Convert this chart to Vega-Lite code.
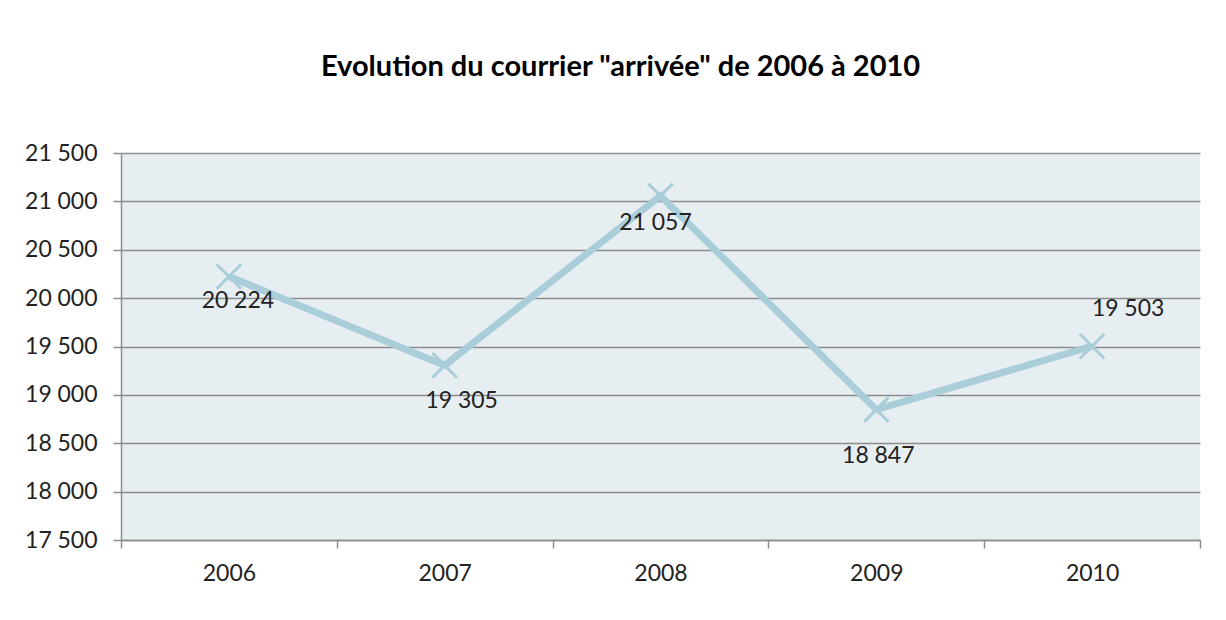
{
  "$schema": "https://vega.github.io/schema/vega-lite/v6.json",
  "width": 1079,
  "height": 387,
  "autosize": {"type": "none"},
  "padding": {"left": 121, "top": 153, "right": 26, "bottom": 80},
  "background": "white",
  "config": {
    "locale": {"number": {"decimal": ",", "thousands": "\u202f", "grouping": [3], "currency": ["", " €"]}},
    "view": {"fill": "#e7eef2", "stroke": null},
    "font": "Lato",
    "axis": {"labelFont": "Lato", "labelFontSize": 23, "labelColor": "#222222", "domainColor": "#8c8c8c", "tickColor": "#8c8c8c", "gridColor": "#8c8c8c", "domainWidth": 1.5, "tickWidth": 1.5, "gridWidth": 1.5}
  },
  "title": {
    "text": "Evolution du courrier \"arrivée\" de 2006 à 2010",
    "font": "Lato",
    "fontSize": 29,
    "fontWeight": "bold",
    "color": "#000000",
    "anchor": "middle",
    "dx": -40,
    "offset": 60
  },
  "data": {
    "values": [
      {"annee": 2006, "courrier": 20224},
      {"annee": 2007, "courrier": 19305},
      {"annee": 2008, "courrier": 21057},
      {"annee": 2009, "courrier": 18847},
      {"annee": 2010, "courrier": 19503}
    ]
  },
  "resolve": {"scale": {"x": "independent"}, "axis": {"x": "independent"}},
  "layer": [
    {
      "mark": {"type": "line", "color": "#a9cdd9", "strokeWidth": 7},
      "encoding": {
        "x": {"field": "annee", "type": "quantitative", "scale": {"domain": [2005.5, 2010.5], "nice": false, "zero": false},
          "axis": {"orient": "bottom", "title": null, "values": [2006, 2007, 2008, 2009, 2010], "format": "d", "ticks": false, "domain": false, "grid": false, "labelPadding": 22}},
        "y": {"field": "courrier", "type": "quantitative", "scale": {"domain": [17500, 21500], "nice": false, "zero": false},
          "axis": {"title": null, "values": [17500, 18000, 18500, 19000, 19500, 20000, 20500, 21000, 21500], "format": ",d", "tickSize": 8, "labelPadding": 16, "grid": true}}
      }
    },
    {
      "mark": {"type": "point", "shape": "M-1,-1L1,1M-1,1L1,-1", "filled": false, "color": "#a9cdd9", "strokeWidth": 3, "size": 600, "opacity": 1},
      "encoding": {
        "x": {"field": "annee", "type": "quantitative", "scale": {"domain": [2005.5, 2010.5], "nice": false, "zero": false},
          "axis": {"orient": "bottom", "title": null, "values": [2005.5, 2006.5, 2007.5, 2008.5, 2009.5, 2010.5], "labels": false, "ticks": true, "tickSize": 8, "domain": true, "grid": false}},
        "y": {"field": "courrier", "type": "quantitative"}
      }
    },
    {
      "transform": [{"filter": "datum.annee == 2006"}],
      "mark": {"type": "text", "fontSize": 23, "color": "#222222", "dx": 9, "dy": 25, "baseline": "middle"},
      "encoding": {
        "x": {"field": "annee", "type": "quantitative", "scale": {"domain": [2005.5, 2010.5], "nice": false, "zero": false}, "axis": null},
        "y": {"field": "courrier", "type": "quantitative"},
        "text": {"field": "courrier", "type": "quantitative", "format": ",d"}
      }
    },
    {
      "transform": [{"filter": "datum.annee == 2007"}],
      "mark": {"type": "text", "fontSize": 23, "color": "#222222", "dx": 17, "dy": 36, "baseline": "middle"},
      "encoding": {
        "x": {"field": "annee", "type": "quantitative", "scale": {"domain": [2005.5, 2010.5], "nice": false, "zero": false}, "axis": null},
        "y": {"field": "courrier", "type": "quantitative"},
        "text": {"field": "courrier", "type": "quantitative", "format": ",d"}
      }
    },
    {
      "transform": [{"filter": "datum.annee == 2008"}],
      "mark": {"type": "text", "fontSize": 23, "color": "#222222", "dx": -5, "dy": 27, "baseline": "middle"},
      "encoding": {
        "x": {"field": "annee", "type": "quantitative", "scale": {"domain": [2005.5, 2010.5], "nice": false, "zero": false}, "axis": null},
        "y": {"field": "courrier", "type": "quantitative"},
        "text": {"field": "courrier", "type": "quantitative", "format": ",d"}
      }
    },
    {
      "transform": [{"filter": "datum.annee == 2009"}],
      "mark": {"type": "text", "fontSize": 23, "color": "#222222", "dx": 2, "dy": 46, "baseline": "middle"},
      "encoding": {
        "x": {"field": "annee", "type": "quantitative", "scale": {"domain": [2005.5, 2010.5], "nice": false, "zero": false}, "axis": null},
        "y": {"field": "courrier", "type": "quantitative"},
        "text": {"field": "courrier", "type": "quantitative", "format": ",d"}
      }
    },
    {
      "transform": [{"filter": "datum.annee == 2010"}],
      "mark": {"type": "text", "fontSize": 23, "color": "#222222", "dx": 36, "dy": -37, "baseline": "middle"},
      "encoding": {
        "x": {"field": "annee", "type": "quantitative", "scale": {"domain": [2005.5, 2010.5], "nice": false, "zero": false}, "axis": null},
        "y": {"field": "courrier", "type": "quantitative"},
        "text": {"field": "courrier", "type": "quantitative", "format": ",d"}
      }
    }
  ]
}
